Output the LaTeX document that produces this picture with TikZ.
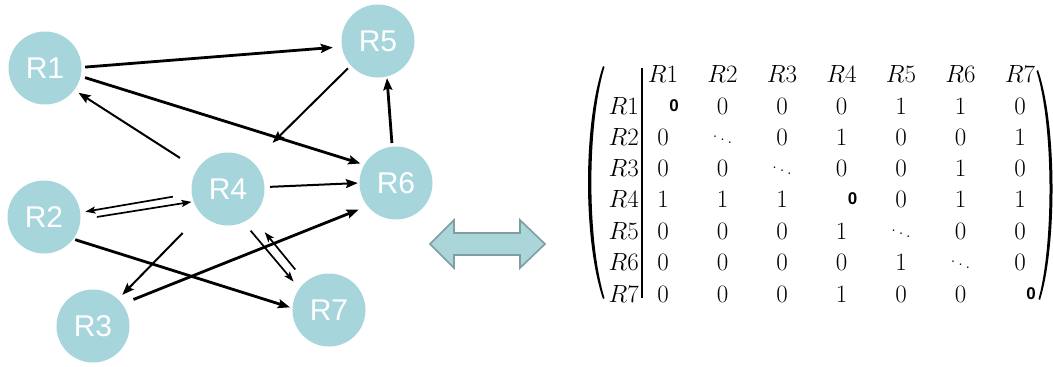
\documentclass[tikz,border=0pt]{standalone}
\usepackage{fontspec}
\newfontfamily\nodefont{Liberation Sans}
\usetikzlibrary{arrows.meta}
\definecolor{nodeblue}{RGB}{166,214,220}
\definecolor{arrowfill}{RGB}{170,214,218}
\definecolor{arrowedge}{RGB}{126,158,162}
\tikzset{
  rnode/.style={circle, fill=nodeblue, minimum size=73pt, inner sep=0pt, text=white,
    font=\nodefont\fontsize{30}{30}\selectfont},
  edge/.style={-{Stealth[length=12pt,width=9pt,inset=2pt]}, line width=2pt, black},
  thickedge/.style={edge, line width=2.8pt},
  pairedge/.style={-{Stealth[length=10pt,width=7pt,inset=2pt]}, line width=1.7pt, black},
  mlab/.style={font=\fontsize{25}{28}\selectfont, inner sep=0pt},
  ment/.style={font=\fontsize{25}{28}\selectfont, inner sep=0pt},
}
\newcommand\bzero{{\nodefont\bfseries\fontsize{17}{17}\selectfont 0}}
\newcommand\dotsd{{\fontsize{20}{20}\selectfont$\ddots$}}
\begin{document}
\begin{tikzpicture}[x=1pt,y=-1pt]
\fill[white] (0,0) rectangle (1053,367);
\useasboundingbox (0,0) rectangle (1053,367);

% graph nodes
\node[rnode] (R1) at (45,68) {R1};
\node[rnode] (R5) at (378,41) {R5};
\node[rnode] (R4) at (228,189) {R4};
\node[rnode] (R6) at (396,183) {R6};
\node[rnode] (R2) at (44,217) {R2};
\node[rnode] (R3) at (93,326) {R3};
\node[rnode] (R7) at (329,310) {R7};

% connectors
\draw[thickedge, shorten <=3.5pt, shorten >=9pt] (R1.1) -- (R5.189);
\draw[thickedge, shorten <=4.5pt, shorten >=4pt] (R1.-13) -- (R6.150);
\draw[edge, shorten <=20.5pt, shorten >=5pt] (R4.147) -- (R1.-37);
\draw[edge, shorten <=4pt, shorten >=27.5pt] (R5.222) -- (R4.47);
\draw[thickedge, shorten <=3.5pt, shorten >=1.5pt] (R6.96) -- (R5.-76);
\draw[edge, shorten <=5.5pt, shorten >=1.5pt] (R4.3) -- (R6.180);
\draw[pairedge, shorten <=19pt, shorten >=5pt] (R4.187) -- (R2.7);
\draw[pairedge, shorten <=16.5pt, shorten >=2pt] (R2.-4) -- (R4.200);
\draw[edge, shorten <=26.5pt, shorten >=6pt] (R4.223) -- (R3.47);
\draw[thickedge, shorten <=12pt, shorten >=9.5pt] (R3.37) -- (R6.219);
\draw[thickedge, shorten <=2pt, shorten >=2.5pt] (R2.-37) -- (R7.177);
\draw[pairedge, shorten <=11pt, shorten >=9pt] (R4.-65) -- (R7.144);
\draw[pairedge, shorten <=16pt, shorten >=20pt] (R7.130) -- (R4.-49);

% double arrow
\draw[fill=arrowfill, draw=arrowedge, line width=1.6pt, line join=miter]
  (430,244) -- (454,220) -- (454,233) -- (520,233) -- (520,220) -- (545,244)
  -- (520,268) -- (520,255) -- (454,255) -- (454,268) -- cycle;

% matrix
\fill (603,66) .. controls (583,125) and (583,240) .. (603,299)
  -- (604.5,298) .. controls (587,240) and (587,125) .. (604.5,67) -- cycle;
\fill (1038,70) .. controls (1057,125) and (1057,245) .. (1040,300)
  -- (1038.5,299) .. controls (1053.5,245) and (1053.5,125) .. (1036.5,71) -- cycle;
\draw[line width=2pt] (642,68) -- (642,298);

\foreach \j/\x in {1/663,2/722.5,3/782,4/841.5,5/901,6/960.5,7/1020}
  \node[mlab] (ch\j) at (\x,74) {$R$\j};
\foreach \i/\y in {1/106,2/137,3/168,4/199,5/231,6/262,7/294}
  \node[mlab, anchor=east] (rl\i) at (639,\y) {$R$\i};

\foreach \i/\y/\row in {1/106/{3,0,0,0,1,1,0}, 2/137/{0,2,0,1,0,0,1},
    3/168/{0,0,2,0,0,1,0}, 4/199/{1,1,1,3,0,1,1}, 5/231/{0,0,0,1,2,0,0},
    6/262/{0,0,0,0,1,2,0}, 7/294/{0,0,0,1,0,0,3}}
  \foreach \v [count=\j] in \row {
    \pgfmathsetmacro\xx{663+(\j-1)*59.5+(\v==3)*11}
    \node[ment] (e\i\j) at (\xx,\y) {\ifcase\v\relax 0\or 1\or \dotsd\or \bzero\fi};
  };
\end{tikzpicture}
\end{document}
